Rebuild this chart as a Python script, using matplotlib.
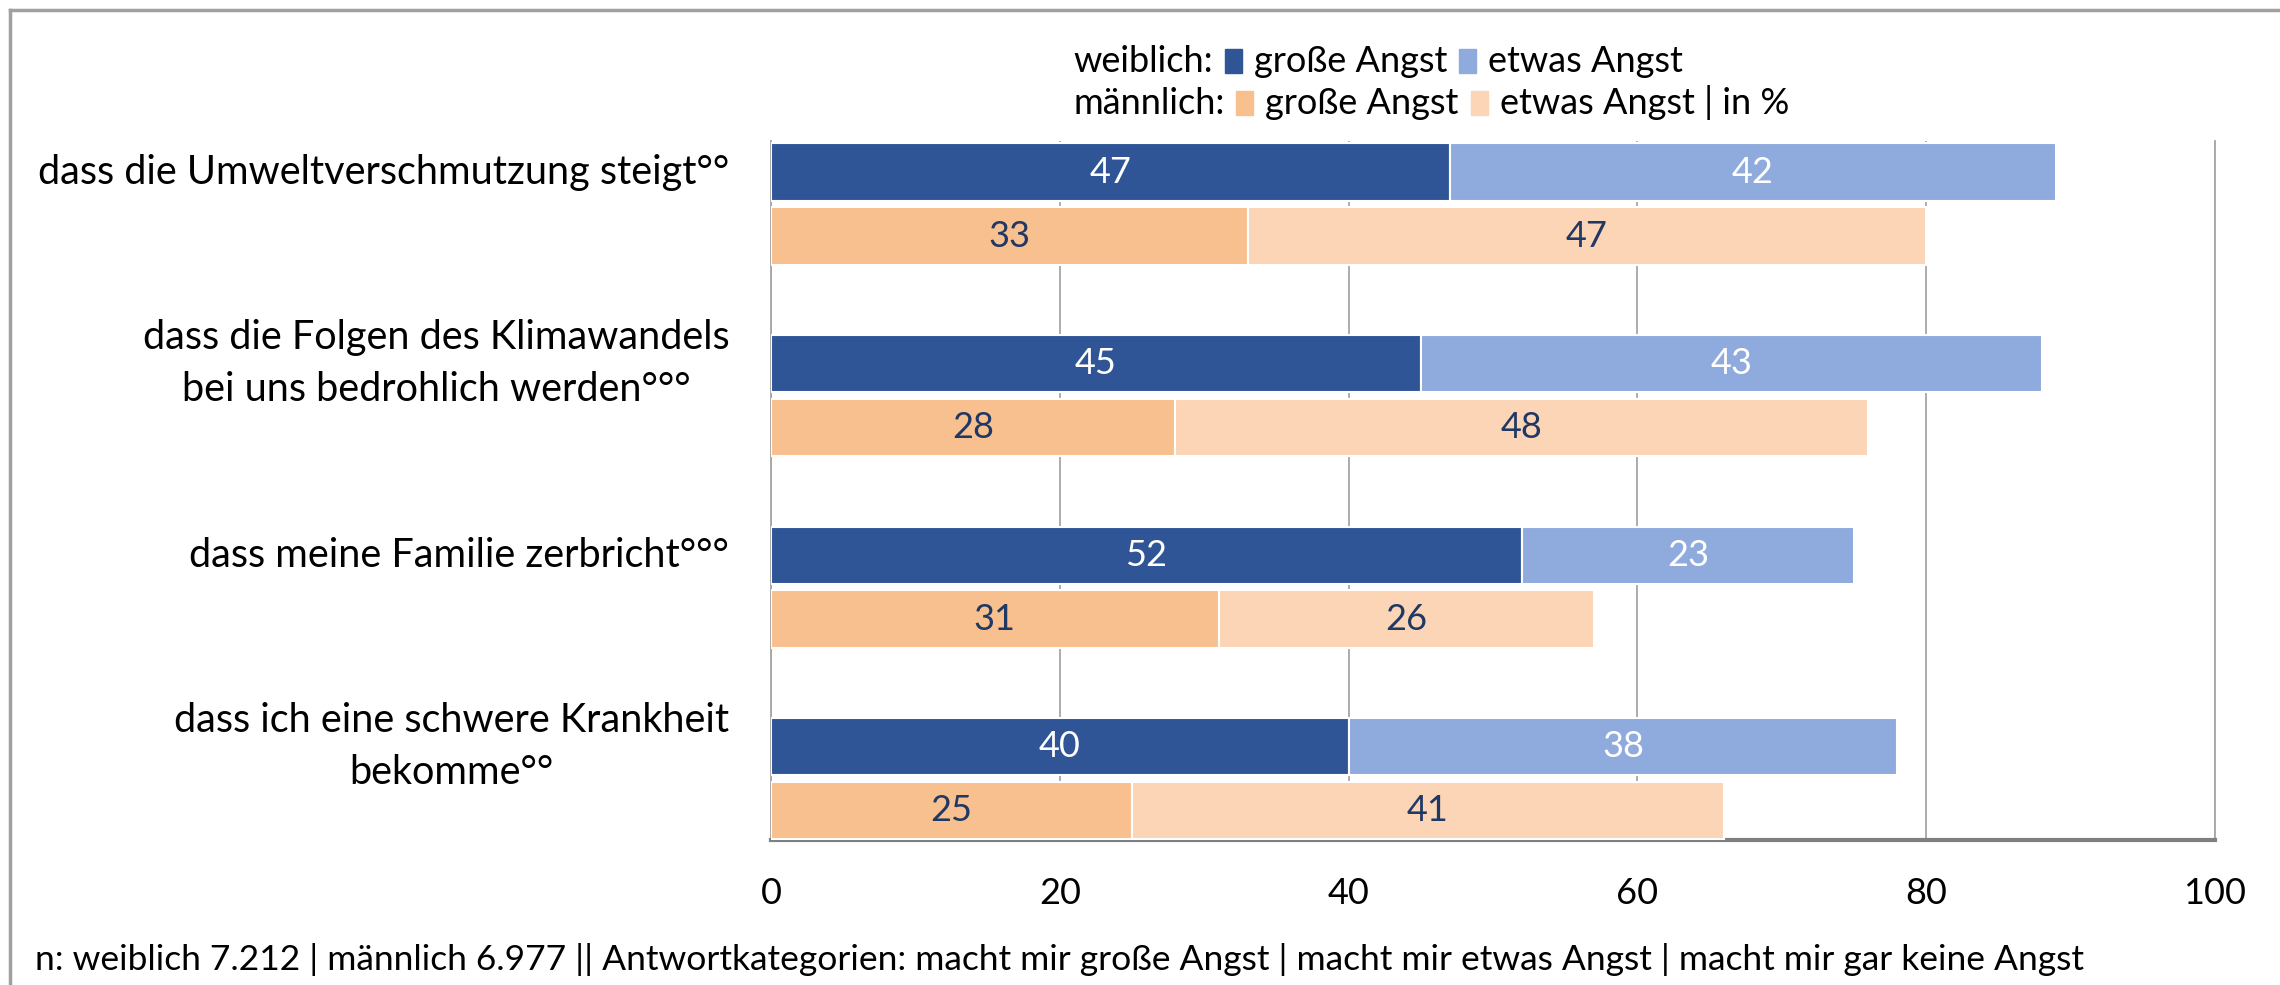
import matplotlib
matplotlib.use('Agg')
import matplotlib.pyplot as plt
from matplotlib.patches import Rectangle
from matplotlib.lines import Line2D
import numpy as np

categories = [
    'dass die Umweltverschmutzung steigt°°',
    'dass die Folgen des Klimawandels\nbei uns bedrohlich werden°°°',
    'dass meine Familie zerbricht°°°',
    'dass ich eine schwere Krankheit\nbekomme°°',
]
female_big = [47, 45, 52, 40]
female_some = [42, 43, 23, 38]
male_big = [33, 28, 31, 25]
male_some = [47, 48, 26, 41]
xticks = [0, 20, 40, 60, 80, 100]
footer = ('n: weiblich 7.212 | männlich 6.977 || Antwortkategorien: macht mir große Angst '
          '| macht mir etwas Angst | macht mir gar keine Angst')

c_fbig = '#2F5597'
c_fsome = '#8FAADC'
c_mbig = '#F8C08F'
c_msome = '#FBD5B5'
c_dark = '#203864'
FS = 26

plt.rcParams['font.family'] = ['Lato', 'DejaVu Sans']

W, H = 2280, 985
fig = plt.figure(figsize=(W / 100, H / 100), dpi=100)
ax = fig.add_axes([771 / W, 1 - 840 / H, (2215 - 771) / W, (840 - 141) / H])

y = np.arange(len(categories))
off = 0.167
bh = 0.30

b1 = ax.barh(y - off, female_big, height=bh, color=c_fbig, edgecolor='white', linewidth=1.5, zorder=3)
b2 = ax.barh(y - off, female_some, left=female_big, height=bh, color=c_fsome,
             edgecolor='white', linewidth=1.5, zorder=3)
b3 = ax.barh(y + off, male_big, height=bh, color=c_mbig, edgecolor='white', linewidth=1.5, zorder=3)
b4 = ax.barh(y + off, male_some, left=male_big, height=bh, color=c_msome,
             edgecolor='white', linewidth=1.5, zorder=3)

for cont, col in [(b1, 'white'), (b2, 'white'), (b3, c_dark), (b4, c_dark)]:
    ax.bar_label(cont, label_type='center', color=col, fontsize=FS)

ax.set_xlim(0, 100)
ax.set_ylim(3.32, -0.33)
ax.set_xticks(xticks)
ax.set_xticklabels([str(t) for t in xticks], fontsize=FS)
ax.set_yticks(y - off)
ax.set_yticklabels(categories, fontsize=28.5, multialignment='center', linespacing=1.5, va='center')
ax.tick_params(axis='both', length=0)
ax.tick_params(axis='x', pad=27)
ax.tick_params(axis='y', pad=30)
ax.xaxis.grid(True, color='#A6A6A6', linewidth=1.3)
ax.set_axisbelow(True)
ax.spines['top'].set_visible(False)
for s in ['left', 'right']:
    ax.spines[s].set_color('#A6A6A6')
    ax.spines[s].set_linewidth(1.3)
ax.spines['bottom'].set_color('#808080')
ax.spines['bottom'].set_linewidth(3)

# outer frame (top and left edge)
fig.add_artist(Line2D([10 / W, 1], [1 - 10 / H, 1 - 10 / H], color='#A0A0A0', lw=2.5))
fig.add_artist(Line2D([10 / W, 10 / W], [0, 1 - 10 / H], color='#A0A0A0', lw=2.5))

# hand-built legend, two rows
renderer = fig.canvas.get_renderer()


def legend_row(x0, yc, items):
    x = x0
    for it in items:
        if it.startswith('#'):
            x += 12
            fig.add_artist(Rectangle(((x) / W, (H - yc - 12) / H), 17 / W, 24 / H,
                                     transform=fig.transFigure, color=it))
            x += 17 + 12
        else:
            t = fig.text(x / W, 1 - yc / H, it, fontsize=FS, va='center', ha='left')
            x += t.get_window_extent(renderer).width


legend_row(1073, 61, ['weiblich:', c_fbig, 'große Angst', c_fsome, 'etwas Angst'])
legend_row(1073, 103, ['männlich:', c_mbig, 'große Angst', c_msome, 'etwas Angst | in %'])

fig.text(35 / W, 1 - 960 / H, footer, fontsize=25.5, va='center', ha='left')

fig.savefig('out.png', dpi=100)
